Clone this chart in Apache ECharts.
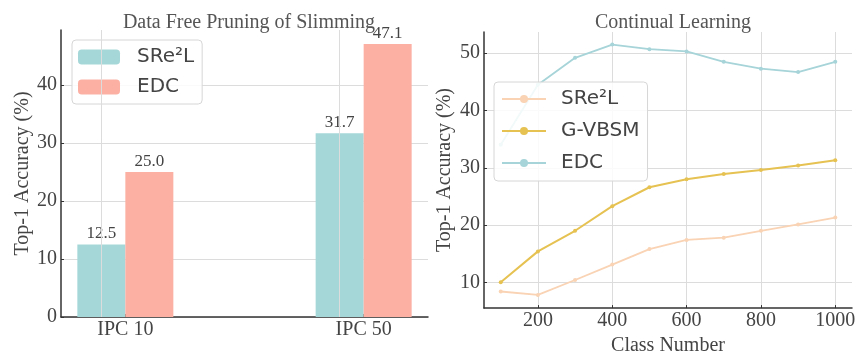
<!DOCTYPE html>
<html>
<head>
<meta charset="utf-8">
<script src="https://cdn.jsdelivr.net/npm/echarts@6/dist/echarts.min.js"></script>
<style>
  html, body { margin: 0; padding: 0; background: #fff; }
  #chart { width: 859px; height: 361px; }
</style>
</head>
<body>
<div id="chart"></div>
<script>
  // left panel: data free pruning
  const ipcCats = ['IPC 10', 'IPC 50']
  const barSre2l = [12.5, 31.7]
  const barEdc = [25.0, 47.1]

  // right panel: continual learning
  const classNums = [100, 200, 300, 400, 500, 600, 700, 800, 900, 1000]
  const lineSre2l = [8.4, 7.8, 10.4, 13.1, 15.8, 17.4, 17.8, 19.0, 20.1, 21.3]
  const lineGvbsm = [10.0, 15.4, 19.0, 23.3, 26.6, 28.0, 28.9, 29.6, 30.4, 31.3]
  const lineEdc = [34.0, 44.5, 49.2, 51.5, 50.7, 50.3, 48.5, 47.3, 46.7, 48.5]

  const leftTicks = [0, 10, 20, 30, 40]
  const rightYTicks = [10, 20, 30, 40, 50]
  const rightXTicks = [200, 400, 600, 800, 1000]

  const serif = '"Liberation Serif", "DejaVu Serif", serif'
  const sans = '"DejaVu Sans", sans-serif'
  const txt = '#444'
  const gridColor = '#dcdcdc'

  const pairs = (xs, ys) => xs.map((x, i) => [x, ys[i]])
  // line series carry a suffix so the two legends stay apart
  const clName = n => n + ' (CL)'

  const chart = echarts.init(document.getElementById('chart'), null, {renderer: 'canvas'})

  const axisLine = {show: true, onZero: false, lineStyle: {color: '#333', width: 1.5}}
  const tick = vals => ({show: true, inside: true, length: 3, customValues: vals, lineStyle: {color: '#333'}})
  const label = {fontFamily: serif, fontSize: 20, color: txt}
  const nameStyle = {fontFamily: serif, fontSize: 20, color: txt}
  const legendBox = {
    orient: 'vertical',
    borderColor: '#d6d6d6', borderWidth: 1, borderRadius: 4,
    backgroundColor: 'rgba(255,255,255,0.85)'
  }

  const option = {
    animation: false,
    title: [
      {
        text: 'Data Free Pruning of Slimming',
        left: 244, top: 8, textAlign: 'center',
        textStyle: {fontFamily: serif, fontSize: 20, fontWeight: 'normal', color: '#555'}
      },
      {
        text: 'Continual Learning',
        left: 668, top: 8, textAlign: 'center',
        textStyle: {fontFamily: serif, fontSize: 20, fontWeight: 'normal', color: '#555'}
      }
    ],
    legend: [
      Object.assign({}, legendBox, {
        data: ['SRe²L', 'EDC'],
        left: 72, top: 40,
        padding: [7, 8, 7, 6],
        itemWidth: 42, itemHeight: 15, itemGap: 10,
        textStyle: {fontFamily: sans, fontSize: 20, color: txt, padding: [0, 0, 0, 12]}
      }),
      Object.assign({}, legendBox, {
        data: ['SRe²L', 'G-VBSM', 'EDC'].map(clName),
        formatter: n => n.replace(' (CL)', ''),
        left: 494, top: 82,
        padding: [7, 8, 8, 7],
        itemWidth: 44, itemHeight: 10, itemGap: 12,
        textStyle: {fontFamily: sans, fontSize: 20, color: txt, padding: [0, 0, 0, 10]}
      })
    ],
    grid: [
      {left: 61, right: 431, top: 30, bottom: 44},
      {left: 484, right: 7, top: 32, bottom: 44}
    ],
    xAxis: [
      {
        gridIndex: 0, type: 'value', min: -0.27, max: 1.27,
        axisLine,
        axisTick: tick([0, 1]),
        axisLabel: Object.assign({customValues: [0, 1], formatter: v => ipcCats[Math.round(v)], margin: 3}, label),
        splitLine: {show: false}
      },
      {
        gridIndex: 1, type: 'value', min: 55, max: 1045,
        name: 'Class Number', nameLocation: 'middle', nameGap: 23,
        nameTextStyle: nameStyle,
        axisLine,
        axisTick: tick(rightXTicks),
        axisLabel: Object.assign({customValues: rightXTicks, formatter: v => String(v), margin: 3}, label),
        splitLine: {show: true, lineStyle: {color: gridColor}}
      }
    ],
    yAxis: [
      {
        gridIndex: 0, type: 'value', min: 0, max: 49.5,
        name: 'Top-1 Accuracy (%)', nameLocation: 'middle', nameGap: 26,
        nameTextStyle: nameStyle,
        axisLine,
        axisTick: tick(leftTicks),
        axisLabel: Object.assign({customValues: leftTicks, margin: 4}, label),
        splitLine: {show: true, lineStyle: {color: gridColor}}
      },
      {
        gridIndex: 1, type: 'value', min: 5.5, max: 53.7,
        name: 'Top-1 Accuracy (%)', nameLocation: 'middle', nameGap: 29,
        nameTextStyle: nameStyle,
        axisLine,
        axisTick: tick(rightYTicks),
        axisLabel: Object.assign({customValues: rightYTicks, margin: 4}, label),
        splitLine: {show: true, lineStyle: {color: gridColor}}
      }
    ],
    series: [
      {
        name: 'SRe²L', type: 'bar', xAxisIndex: 0, yAxisIndex: 0,
        barWidth: 48, barGap: '0%',
        itemStyle: {color: '#a6d7d8'},
        label: {show: true, position: 'top', distance: 2, formatter: p => p.value[1].toFixed(1),
          fontFamily: serif, fontSize: 17, color: txt},
        // vertical grid lines at the two category ticks
        markLine: {
          silent: true, symbol: 'none', label: {show: false},
          lineStyle: {color: gridColor, type: 'solid', width: 1},
          data: [{xAxis: 0}, {xAxis: 1}]
        },
        data: pairs([0, 1], barSre2l)
      },
      {
        name: 'EDC', type: 'bar', xAxisIndex: 0, yAxisIndex: 0,
        barWidth: 48, barGap: '0%',
        itemStyle: {color: '#fbb0a3'},
        label: {show: true, position: 'top', distance: 2, formatter: p => p.value[1].toFixed(1),
          fontFamily: serif, fontSize: 17, color: txt},
        data: pairs([0, 1], barEdc)
      },
      {
        name: clName('SRe²L'), type: 'line', xAxisIndex: 1, yAxisIndex: 1,
        symbol: 'circle', symbolSize: 4,
        lineStyle: {color: '#f9d3b4', width: 1.8},
        itemStyle: {color: '#f9d3b4'},
        data: pairs(classNums, lineSre2l)
      },
      {
        name: clName('G-VBSM'), type: 'line', xAxisIndex: 1, yAxisIndex: 1,
        symbol: 'circle', symbolSize: 4,
        lineStyle: {color: '#e6c252', width: 2},
        itemStyle: {color: '#e6c252'},
        data: pairs(classNums, lineGvbsm)
      },
      {
        name: clName('EDC'), type: 'line', xAxisIndex: 1, yAxisIndex: 1,
        symbol: 'circle', symbolSize: 4,
        lineStyle: {color: '#a6d4d8', width: 1.8},
        itemStyle: {color: '#a6d4d8'},
        data: pairs(classNums, lineEdc)
      }
    ]
  }

  chart.setOption(option)
</script>
</body>
</html>
